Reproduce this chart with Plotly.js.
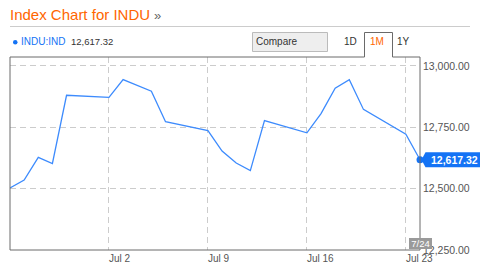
<!DOCTYPE html>
<html>
<head>
<meta charset="utf-8">
<script src="https://cdn.plot.ly/plotly-3.0.1.min.js"></script>
<style>
html,body{margin:0;padding:0;background:#fff;}
#chart{width:481px;height:270px;}
</style>
</head>
<body>
<div id="chart"></div>
<script>
// ---- data ----
const dates = ["2012-06-25","2012-06-26","2012-06-27","2012-06-28","2012-06-29",
  "2012-07-02","2012-07-03","2012-07-05","2012-07-06","2012-07-09","2012-07-10",
  "2012-07-11","2012-07-12","2012-07-13","2012-07-16","2012-07-17","2012-07-18",
  "2012-07-19","2012-07-20","2012-07-23","2012-07-24"];
const values = [12502.66,12534.67,12627.01,12602.26,12880.09,12871.39,12943.82,
  12896.67,12772.47,12736.29,12653.12,12604.53,12573.27,12777.09,12727.21,
  12805.54,12908.70,12943.36,12822.57,12721.46,12617.32];
const xTickVals = ["2012-07-02","2012-07-09","2012-07-16","2012-07-23"];
const xTickText = ["Jul 2","Jul 9","Jul 16","Jul 23"];
const yTickVals = [12250,12500,12750,13000];
const titleText = "Index Chart for INDU";
const symbolText = "INDU:IND";
const rangeButtons = ["1D","1M","1Y"];

// ---- geometry helpers (page px -> paper) ----
const W = 481, H = 270;
const M = {l:10, r:61, t:57, b:20};
const PW = W - M.l - M.r, PH = H - M.t - M.b;
const PX = x => (x - M.l) / PW;
const PY = y => (H - M.b - y) / PH;

const FONT = "Liberation Sans, Arial, Helvetica, sans-serif";
const ORANGE = "#ff6600";
const BLUE_LINE = "#3d8bfd";
const BLUE = "#1473f5";
const FRAME = "#6a6a6a";
const GRID = "#cccccc";

const n = values.length;
const lastDate = dates[n-1];
const lastVal = values[n-1];
const fmt = v => v.toLocaleString("en-US",{minimumFractionDigits:2, maximumFractionDigits:2});
const d = new Date(lastDate + "T00:00:00");
const shortDate = (d.getMonth()+1) + "/" + d.getDate();

const traces = [
  {x: dates, y: values, type: "scatter", mode: "lines",
   line: {color: BLUE_LINE, width: 1.3}, hoverinfo: "skip"},
  {x: [lastDate], y: [lastVal], type: "scatter", mode: "markers",
   marker: {color: BLUE, size: 7}, cliponaxis: false, hoverinfo: "skip"}
];

const annotations = [];
// title
annotations.push({xref:"paper", yref:"paper", x:PX(10), y:PY(15), xanchor:"left", yanchor:"middle",
  text:titleText, showarrow:false, font:{family:FONT, size:15, color:ORANGE}, borderpad:0, borderwidth:0});
annotations.push({xref:"paper", yref:"paper", x:PX(154), y:PY(15.5), xanchor:"left", yanchor:"middle",
  text:"»", showarrow:false, font:{family:FONT, size:13, color:"#666"}, borderpad:0, borderwidth:0});
// header row
annotations.push({xref:"paper", yref:"paper", x:PX(21), y:PY(42), xanchor:"left", yanchor:"middle",
  text:symbolText, showarrow:false, font:{family:FONT, size:10, color:BLUE}, borderpad:0, borderwidth:0});
annotations.push({xref:"paper", yref:"paper", x:PX(71), y:PY(42), xanchor:"left", yanchor:"middle",
  text:fmt(lastVal), showarrow:false, font:{family:FONT, size:9.5, color:"#333"}, borderpad:0, borderwidth:0});
annotations.push({xref:"paper", yref:"paper", x:PX(256), y:PY(42), xanchor:"left", yanchor:"middle",
  text:"Compare", showarrow:false, font:{family:FONT, size:10, color:"#333"}, borderpad:0, borderwidth:0});
const btnX = [350, 377, 403];
rangeButtons.forEach((b,i) => {
  annotations.push({xref:"paper", yref:"paper", x:PX(btnX[i]), y:PY(42), xanchor:"center", yanchor:"middle",
    text:b, showarrow:false, font:{family:FONT, size:10, color: b==="1M" ? ORANGE : "#333"}, borderpad:0, borderwidth:0});
});
// x tick labels (left-aligned at gridline)
xTickVals.forEach((v,i) => {
  annotations.push({xref:"x", yref:"paper", x:v, y:0, xanchor:"left", yanchor:"top", yshift:-1, xshift:-2,
    text:xTickText[i], showarrow:false, font:{family:FONT, size:10, color:"#555"}});
});
// last date box
annotations.push({xref:"x", yref:"paper", x:lastDate, y:0, xanchor:"center", yanchor:"bottom", yshift:1,
  text:shortDate, showarrow:false, bgcolor:"#9a9a9a", width:23, height:11, borderpad:0, borderwidth:0,
  font:{family:FONT, size:9.5, color:"#fff"}});
// last value label text
annotations.push({xref:"paper", yref:"y", x:1, y:lastVal, xanchor:"left", yanchor:"middle", xshift:9,
  text:fmt(lastVal), showarrow:false, font:{family:FONT, size:10.5, color:"#fff", weight:"bold"}});

const shapes = [];
// separator line
shapes.push({type:"line", xref:"paper", yref:"paper", x0:PX(10), x1:PX(470), y0:PY(26.5), y1:PY(26.5),
  line:{color:"#cccccc", width:1}});
// blue dot in header
shapes.push({type:"circle", xref:"paper", yref:"paper", x0:PX(13), x1:PX(17.5), y0:PY(40), y1:PY(44.5),
  fillcolor:BLUE, line:{width:0}});
// compare box
shapes.push({type:"rect", xref:"paper", yref:"paper", x0:PX(252.5), x1:PX(327.5), y0:PY(32.5), y1:PY(51.5),
  fillcolor:"#eeeeee", line:{color:"#bbbbbb", width:1}});
// tab outline
shapes.push({type:"path", xref:"paper", yref:"paper",
  path:`M ${PX(364.5)} ${PY(57)} L ${PX(364.5)} ${PY(32.5)} L ${PX(392.5)} ${PY(32.5)} L ${PX(392.5)} ${PY(57)}`,
  line:{color:FRAME, width:1}});
// plot frame
shapes.push({type:"line", xref:"paper", yref:"paper", x0:0, x1:0, y0:0, y1:1, line:{color:FRAME, width:1}});
shapes.push({type:"line", xref:"paper", yref:"paper", x0:1, x1:1, y0:0, y1:1, line:{color:FRAME, width:1}});
shapes.push({type:"line", xref:"paper", yref:"paper", x0:0, x1:1, y0:0, y1:0, line:{color:FRAME, width:1}});
shapes.push({type:"line", xref:"paper", yref:"paper", x0:0, x1:PX(364.5), y0:1, y1:1, line:{color:FRAME, width:1}});
shapes.push({type:"line", xref:"paper", yref:"paper", x0:PX(392.5), x1:1, y0:1, y1:1, line:{color:FRAME, width:1}});
// price pointer
shapes.push({type:"path", xref:"paper", yref:"y", xsizemode:"pixel", ysizemode:"pixel", xanchor:1, yanchor:lastVal,
  path:"M 1.5 0 L 5.5 7.5 L 60 7.5 L 60 -7.5 L 5.5 -7.5 Z", fillcolor:BLUE, line:{width:0}});

const layout = {
  width: W, height: H,
  margin: M,
  paper_bgcolor: "#fff", plot_bgcolor: "#fff",
  showlegend: false,
  font: {family: FONT, size: 10, color: "#555"},
  xaxis: {type:"date", range:[dates[0], lastDate], tickvals:xTickVals, showticklabels:false,
    showgrid:true, gridcolor:GRID, griddash:"6px,4px", gridwidth:1, zeroline:false, showline:false, ticks:""},
  yaxis: {side:"right", range:[12250, 13036], tickvals:yTickVals, tickformat:",.2f",
    showgrid:true, gridcolor:GRID, griddash:"6px,4px", gridwidth:1, zeroline:false, showline:false,
    ticks:"", ticklabelstandoff:2, tickfont:{family:FONT, size:10.5, color:"#555"}},
  annotations: annotations,
  shapes: shapes
};
Plotly.newPlot("chart", traces, layout, {displayModeBar:false, staticPlot:true});
</script>
</body>
</html>
